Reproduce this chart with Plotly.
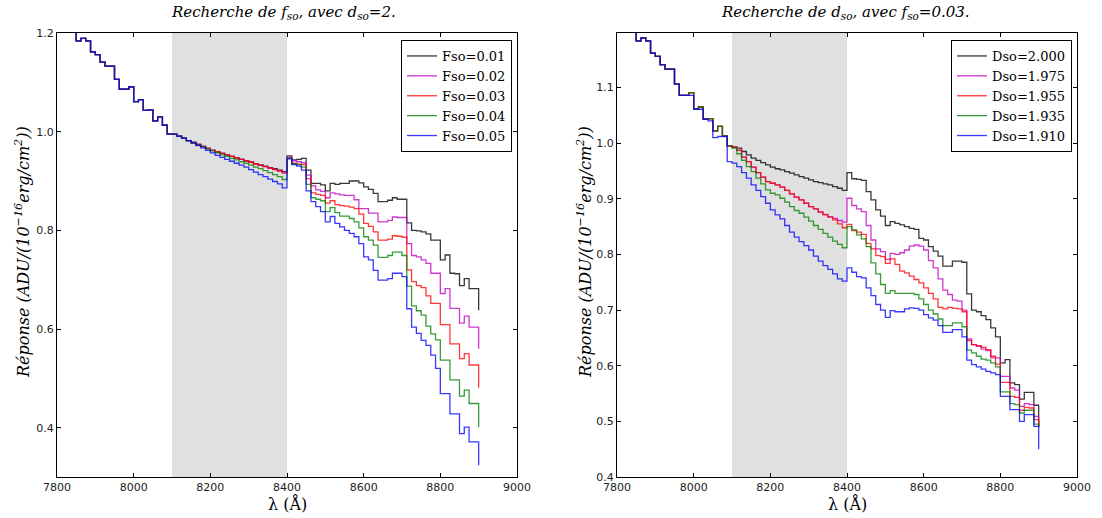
import plotly.graph_objects as go

# ---------------- data ----------------
LAMBDA_START = 7837.5   # first sample (value above the plotted range)
LAMBDA_STEP = 12.5
N_POINTS = 86
wavelength = [LAMBDA_START + LAMBDA_STEP * i for i in range(N_POINTS)]

first_value = 1.215  # clipped at the top of both panels

# shared spectrum below 8100 A (bins 7850 .. 8087.5)
pre_common = [1.184, 1.189, 1.184, 1.162, 1.156, 1.141, 1.133, 1.133, 1.106, 1.086,
              1.086, 1.091, 1.061, 1.065, 1.043, 1.044, 1.022, 1.030, 1.013, 0.995]
pre_right_blue = [1.184, 1.189, 1.184, 1.162, 1.156, 1.141, 1.133, 1.133, 1.106, 1.086,
                  1.086, 1.086, 1.061, 1.061, 1.043, 1.040, 1.010, 1.012, 1.012, 0.967]

# ---- left panel: Fso series, 8100-8400 A
fso_labels = ["Fso=0.01", "Fso=0.02", "Fso=0.03", "Fso=0.04", "Fso=0.05"]
fso001_mid = [0.995, 0.991, 0.987, 0.982, 0.978, 0.974, 0.970, 0.966, 0.962, 0.959, 0.956, 0.953,
              0.950, 0.947, 0.944, 0.941, 0.938, 0.935, 0.932, 0.930, 0.927, 0.925, 0.922, 0.919]
fso002_mid = [0.995, 0.991, 0.987, 0.982, 0.978, 0.974, 0.970, 0.966, 0.962, 0.959, 0.956, 0.953,
              0.950, 0.947, 0.944, 0.941, 0.938, 0.935, 0.932, 0.929, 0.926, 0.924, 0.921, 0.918]
fso003_mid = [0.995, 0.991, 0.987, 0.982, 0.978, 0.974, 0.970, 0.966, 0.962, 0.959, 0.956, 0.953,
              0.950, 0.947, 0.944, 0.941, 0.938, 0.935, 0.932, 0.929, 0.926, 0.923, 0.920, 0.916]
fso004_mid = [0.995, 0.991, 0.987, 0.982, 0.978, 0.973, 0.969, 0.965, 0.961, 0.957, 0.953, 0.950,
              0.946, 0.943, 0.939, 0.936, 0.932, 0.928, 0.925, 0.921, 0.917, 0.913, 0.909, 0.903]
fso005_mid = [0.995, 0.991, 0.987, 0.982, 0.977, 0.972, 0.967, 0.962, 0.957, 0.952, 0.948, 0.944,
              0.940, 0.936, 0.932, 0.928, 0.923, 0.918, 0.913, 0.909, 0.904, 0.899, 0.894, 0.886]
# ---- left panel: Fso series, 8400-8900 A (last value = point at 8900)
fso001_post = [0.951, 0.943, 0.944, 0.946, 0.922, 0.895, 0.895, 0.892, 0.880, 0.895, 0.893, 0.895,
               0.895, 0.900, 0.900, 0.896, 0.888, 0.883, 0.875, 0.858, 0.858, 0.861, 0.866, 0.863,
               0.863, 0.815, 0.800, 0.799, 0.797, 0.793, 0.780, 0.780, 0.740, 0.750, 0.713, 0.712,
               0.688, 0.702, 0.682, 0.682, 0.638]
fso002_post = [0.948, 0.941, 0.939, 0.937, 0.912, 0.890, 0.882, 0.879, 0.866, 0.876, 0.874, 0.872,
               0.871, 0.871, 0.862, 0.844, 0.844, 0.835, 0.835, 0.817, 0.817, 0.820, 0.827, 0.826,
               0.826, 0.773, 0.749, 0.746, 0.740, 0.733, 0.713, 0.713, 0.672, 0.682, 0.642, 0.642,
               0.612, 0.626, 0.604, 0.604, 0.560]
fso003_post = [0.946, 0.936, 0.934, 0.933, 0.905, 0.876, 0.873, 0.871, 0.855, 0.860, 0.852, 0.850,
               0.849, 0.847, 0.844, 0.833, 0.814, 0.808, 0.797, 0.780, 0.780, 0.782, 0.789, 0.788,
               0.786, 0.720, 0.696, 0.688, 0.684, 0.667, 0.652, 0.652, 0.609, 0.609, 0.570, 0.570,
               0.540, 0.550, 0.527, 0.527, 0.481]
fso004_post = [0.946, 0.935, 0.933, 0.928, 0.893, 0.866, 0.863, 0.860, 0.838, 0.846, 0.836, 0.829,
               0.829, 0.824, 0.817, 0.805, 0.787, 0.780, 0.770, 0.745, 0.745, 0.749, 0.756, 0.756,
               0.749, 0.687, 0.647, 0.637, 0.628, 0.606, 0.590, 0.578, 0.537, 0.537, 0.497, 0.497,
               0.464, 0.476, 0.449, 0.449, 0.401]
fso005_post = [0.945, 0.933, 0.930, 0.922, 0.880, 0.858, 0.848, 0.838, 0.817, 0.828, 0.814, 0.807,
               0.800, 0.794, 0.787, 0.773, 0.746, 0.740, 0.719, 0.699, 0.699, 0.702, 0.713, 0.713,
               0.706, 0.641, 0.604, 0.591, 0.577, 0.567, 0.547, 0.520, 0.469, 0.469, 0.428, 0.428,
               0.388, 0.401, 0.371, 0.371, 0.324]

# ---- right panel: Dso series, 8100-8400 A
dso_labels = ["Dso=2.000", "Dso=1.975", "Dso=1.955", "Dso=1.935", "Dso=1.910"]
dso2000_mid = [0.993, 0.991, 0.985, 0.979, 0.973, 0.969, 0.965, 0.961, 0.957, 0.954, 0.952, 0.949,
               0.946, 0.943, 0.940, 0.937, 0.934, 0.931, 0.929, 0.927, 0.925, 0.922, 0.919, 0.915]
dso1975_mid = [0.993, 0.987, 0.975, 0.967, 0.957, 0.947, 0.939, 0.931, 0.928, 0.925, 0.921, 0.915,
               0.909, 0.903, 0.898, 0.892, 0.886, 0.882, 0.876, 0.872, 0.868, 0.865, 0.861, 0.858]
dso1955_mid = [0.993, 0.987, 0.975, 0.967, 0.957, 0.947, 0.939, 0.931, 0.928, 0.925, 0.921, 0.915,
               0.909, 0.903, 0.898, 0.892, 0.886, 0.882, 0.876, 0.871, 0.867, 0.862, 0.855, 0.848]
dso1935_mid = [0.991, 0.981, 0.969, 0.958, 0.949, 0.937, 0.927, 0.916, 0.910, 0.907, 0.901, 0.894,
               0.886, 0.879, 0.874, 0.867, 0.860, 0.852, 0.845, 0.838, 0.831, 0.824, 0.818, 0.812]
dso1910_mid = [0.964, 0.958, 0.947, 0.937, 0.925, 0.915, 0.904, 0.892, 0.880, 0.871, 0.864, 0.852,
               0.840, 0.831, 0.823, 0.816, 0.808, 0.797, 0.788, 0.780, 0.773, 0.765, 0.756, 0.752]
# ---- right panel: Dso series, 8400-8900 A (last value = point at 8900)
dso2000_post = [0.947, 0.936, 0.935, 0.933, 0.913, 0.898, 0.880, 0.869, 0.852, 0.859, 0.856, 0.853,
                0.850, 0.847, 0.845, 0.829, 0.826, 0.814, 0.806, 0.797, 0.779, 0.779, 0.788, 0.788,
                0.786, 0.729, 0.700, 0.697, 0.690, 0.683, 0.668, 0.652, 0.605, 0.611, 0.569, 0.566,
                0.540, 0.552, 0.552, 0.529, 0.490]
dso1975_post = [0.901, 0.888, 0.882, 0.877, 0.852, 0.826, 0.810, 0.805, 0.791, 0.802, 0.800, 0.803,
                0.808, 0.815, 0.817, 0.815, 0.808, 0.789, 0.776, 0.756, 0.736, 0.728, 0.718, 0.716,
                0.700, 0.648, 0.638, 0.635, 0.630, 0.627, 0.614, 0.614, 0.581, 0.581, 0.560, 0.556,
                0.527, 0.532, 0.530, 0.509, 0.490]
dso1955_post = [0.854, 0.843, 0.840, 0.836, 0.820, 0.810, 0.798, 0.796, 0.784, 0.792, 0.782, 0.770,
                0.767, 0.761, 0.755, 0.749, 0.740, 0.730, 0.720, 0.705, 0.702, 0.705, 0.703, 0.702,
                0.697, 0.645, 0.638, 0.636, 0.633, 0.629, 0.617, 0.603, 0.570, 0.570, 0.545, 0.543,
                0.520, 0.525, 0.524, 0.503, 0.490]
dso1935_post = [0.850, 0.844, 0.835, 0.828, 0.814, 0.785, 0.765, 0.746, 0.730, 0.735, 0.730, 0.730,
                0.730, 0.730, 0.728, 0.720, 0.710, 0.700, 0.693, 0.684, 0.672, 0.672, 0.677, 0.677,
                0.670, 0.628, 0.623, 0.617, 0.612, 0.610, 0.605, 0.598, 0.553, 0.553, 0.532, 0.530,
                0.515, 0.520, 0.520, 0.495, 0.490]
dso1910_post = [0.776, 0.768, 0.760, 0.758, 0.740, 0.726, 0.710, 0.700, 0.687, 0.699, 0.697, 0.697,
                0.702, 0.704, 0.703, 0.700, 0.692, 0.686, 0.682, 0.672, 0.660, 0.660, 0.665, 0.665,
                0.652, 0.610, 0.602, 0.598, 0.594, 0.590, 0.587, 0.584, 0.545, 0.545, 0.521, 0.521,
                0.500, 0.512, 0.512, 0.491, 0.450]

fit_window = (8100, 8400)
x_ticks = [7800, 8000, 8200, 8400, 8600, 8800, 9000]
left_y_ticks = [0.4, 0.6, 0.8, 1.0, 1.2]
right_y_ticks = [0.4, 0.5, 0.6, 0.7, 0.8, 0.9, 1.0, 1.1]

colors = ["rgba(0,0,0,0.78)", "rgba(191,0,191,0.78)", "rgba(255,0,0,0.78)",
          "rgba(0,128,0,0.78)", "rgba(0,0,255,0.78)"]

left_series = [
    (fso_labels[0], pre_common, fso001_mid, fso001_post),
    (fso_labels[1], pre_common, fso002_mid, fso002_post),
    (fso_labels[2], pre_common, fso003_mid, fso003_post),
    (fso_labels[3], pre_common, fso004_mid, fso004_post),
    (fso_labels[4], pre_common, fso005_mid, fso005_post),
]
right_series = [
    (dso_labels[0], pre_common, dso2000_mid, dso2000_post),
    (dso_labels[1], pre_common, dso1975_mid, dso1975_post),
    (dso_labels[2], pre_common, dso1955_mid, dso1955_post),
    (dso_labels[3], pre_common, dso1935_mid, dso1935_post),
    (dso_labels[4], pre_right_blue, dso1910_mid, dso1910_post),
]

# ---------------- figure ----------------
W, H = 1102, 518
fig = go.Figure()

for i, (name, pre, mid, post) in enumerate(left_series):
    fig.add_trace(go.Scatter(x=wavelength, y=[first_value] + pre + mid + post, name=name,
                             mode="lines", line=dict(color=colors[i], width=1.3, shape="hv"),
                             xaxis="x", yaxis="y", legend="legend"))
for i, (name, pre, mid, post) in enumerate(right_series):
    fig.add_trace(go.Scatter(x=wavelength, y=[first_value] + pre + mid + post, name=name,
                             mode="lines", line=dict(color=colors[i], width=1.3, shape="hv"),
                             xaxis="x2", yaxis="y2", legend="legend2"))

def px(v):
    return v / W

def py(v):
    return 1 - v / H

tickfont = dict(family="DejaVu Sans", size=11, color="#222")
axis_common = dict(showline=True, linecolor="#000", linewidth=1, mirror="ticks",
                   ticks="inside", ticklen=4, tickcolor="#000", showgrid=False,
                   zeroline=False, tickfont=tickfont, automargin=False)

legend_common = dict(xanchor="right", yanchor="top", bordercolor="#000", borderwidth=1,
                     bgcolor="white", font=dict(family="DejaVu Serif", size=13, color="#000"),
                     tracegroupgap=0, itemwidth=30)

fig.update_layout(
    width=W, height=H, autosize=False,
    margin=dict(l=0, r=0, t=0, b=0, autoexpand=False),
    paper_bgcolor="white", plot_bgcolor="white",
    xaxis=dict(domain=[px(57), px(517)], range=[7800, 9000], tickvals=x_ticks,
               anchor="y", **axis_common),
    yaxis=dict(domain=[py(477), py(33)], range=[0.3, 1.2], tickvals=left_y_ticks,
               tickformat=".1f", anchor="x", **axis_common),
    xaxis2=dict(domain=[px(617), px(1077)], range=[7800, 9000], tickvals=x_ticks,
                anchor="y2", **axis_common),
    yaxis2=dict(domain=[py(477), py(33)], range=[0.4, 1.198], tickvals=right_y_ticks,
                tickformat=".1f", anchor="x2", **axis_common),
    legend=dict(x=px(512), y=py(40), **legend_common),
    legend2=dict(x=px(1072), y=py(40), **legend_common),
    showlegend=True,
)

for xr, yr in (("x", "y domain"), ("x2", "y2 domain")):
    fig.add_shape(type="rect", xref=xr, yref=yr, x0=fit_window[0], x1=fit_window[1],
                  y0=0, y1=1, fillcolor="#e0e0e0", line=dict(width=0), layer="below")

serif = "DejaVu Serif"
ylabel = "<i>Réponse (ADU/(10<sup>−16</sup>erg/cm<sup>2</sup>))</i>"
annotations = [
    dict(text="<i>Recherche de f<sub>so</sub>, avec d<sub>so</sub>=2.</i>", x=px(283), y=py(13), size=15),
    dict(text="<i>Recherche de d<sub>so</sub>, avec f<sub>so</sub>=0.03.</i>", x=px(845), y=py(13), size=15),
    dict(text="λ (Å)", x=px(287), y=py(504), size=16),
    dict(text="λ (Å)", x=px(847), y=py(504), size=16),
    dict(text=ylabel, x=px(22), y=py(252), angle=-90, size=16),
    dict(text=ylabel, x=px(584), y=py(252), angle=-90, size=16),
]
for a in annotations:
    fig.add_annotation(text=a["text"], x=a["x"], y=a["y"], xref="paper", yref="paper",
                       showarrow=False, xanchor="center", yanchor="middle",
                       textangle=a.get("angle", 0),
                       font=dict(family=serif, size=a.get("size", 13), color="#000"))

fig.write_html("out.html", config={"displayModeBar": False},
               post_script="document.body.style.margin='0px';document.body.style.overflow='hidden';")
